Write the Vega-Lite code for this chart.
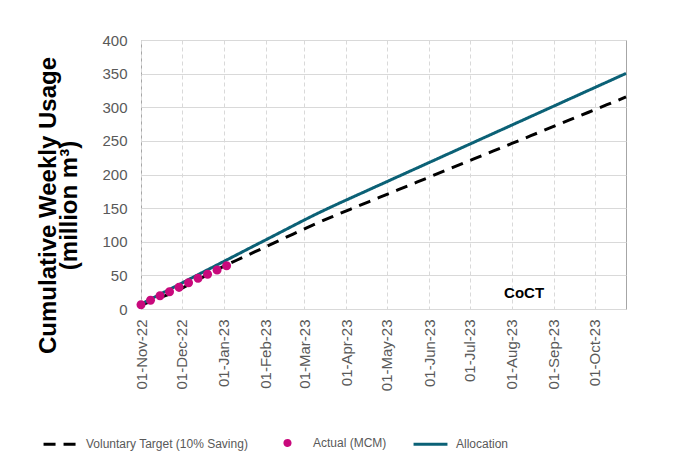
{
  "$schema": "https://vega.github.io/schema/vega-lite/v6.json",
  "width": 485,
  "height": 269,
  "autosize": "none",
  "padding": {"left": 141, "top": 40, "right": 55, "bottom": 147},
  "background": "white",
  "datasets": {
    "target": [
      {"date": "2022-11-01", "series": "Voluntary Target (10% Saving)", "value": 5.5},
      {"date": "2022-11-08", "series": "Voluntary Target (10% Saving)", "value": 11.5},
      {"date": "2022-11-15", "series": "Voluntary Target (10% Saving)", "value": 17.0},
      {"date": "2022-11-22", "series": "Voluntary Target (10% Saving)", "value": 22.0},
      {"date": "2022-11-29", "series": "Voluntary Target (10% Saving)", "value": 28.5},
      {"date": "2022-12-06", "series": "Voluntary Target (10% Saving)", "value": 36.0},
      {"date": "2022-12-13", "series": "Voluntary Target (10% Saving)", "value": 43.5},
      {"date": "2022-12-20", "series": "Voluntary Target (10% Saving)", "value": 51.0},
      {"date": "2022-12-27", "series": "Voluntary Target (10% Saving)", "value": 58.5},
      {"date": "2023-01-03", "series": "Voluntary Target (10% Saving)", "value": 65.5},
      {"date": "2023-01-10", "series": "Voluntary Target (10% Saving)", "value": 72.1},
      {"date": "2023-01-17", "series": "Voluntary Target (10% Saving)", "value": 78.7},
      {"date": "2023-01-24", "series": "Voluntary Target (10% Saving)", "value": 85.2},
      {"date": "2023-01-31", "series": "Voluntary Target (10% Saving)", "value": 91.7},
      {"date": "2023-02-07", "series": "Voluntary Target (10% Saving)", "value": 98.3},
      {"date": "2023-02-14", "series": "Voluntary Target (10% Saving)", "value": 104.9},
      {"date": "2023-02-21", "series": "Voluntary Target (10% Saving)", "value": 111.4},
      {"date": "2023-02-28", "series": "Voluntary Target (10% Saving)", "value": 118.0},
      {"date": "2023-03-07", "series": "Voluntary Target (10% Saving)", "value": 124.4},
      {"date": "2023-03-14", "series": "Voluntary Target (10% Saving)", "value": 130.6},
      {"date": "2023-03-21", "series": "Voluntary Target (10% Saving)", "value": 136.6},
      {"date": "2023-03-28", "series": "Voluntary Target (10% Saving)", "value": 142.5},
      {"date": "2023-04-04", "series": "Voluntary Target (10% Saving)", "value": 148.2},
      {"date": "2023-04-11", "series": "Voluntary Target (10% Saving)", "value": 154.0},
      {"date": "2023-04-18", "series": "Voluntary Target (10% Saving)", "value": 159.8},
      {"date": "2023-04-25", "series": "Voluntary Target (10% Saving)", "value": 165.5},
      {"date": "2023-05-02", "series": "Voluntary Target (10% Saving)", "value": 171.3},
      {"date": "2023-05-09", "series": "Voluntary Target (10% Saving)", "value": 177.0},
      {"date": "2023-05-16", "series": "Voluntary Target (10% Saving)", "value": 182.8},
      {"date": "2023-05-23", "series": "Voluntary Target (10% Saving)", "value": 188.6},
      {"date": "2023-05-30", "series": "Voluntary Target (10% Saving)", "value": 194.3},
      {"date": "2023-06-06", "series": "Voluntary Target (10% Saving)", "value": 200.1},
      {"date": "2023-06-13", "series": "Voluntary Target (10% Saving)", "value": 205.8},
      {"date": "2023-06-20", "series": "Voluntary Target (10% Saving)", "value": 211.6},
      {"date": "2023-06-27", "series": "Voluntary Target (10% Saving)", "value": 217.4},
      {"date": "2023-07-04", "series": "Voluntary Target (10% Saving)", "value": 223.1},
      {"date": "2023-07-11", "series": "Voluntary Target (10% Saving)", "value": 228.9},
      {"date": "2023-07-18", "series": "Voluntary Target (10% Saving)", "value": 234.6},
      {"date": "2023-07-25", "series": "Voluntary Target (10% Saving)", "value": 240.4},
      {"date": "2023-08-01", "series": "Voluntary Target (10% Saving)", "value": 246.2},
      {"date": "2023-08-08", "series": "Voluntary Target (10% Saving)", "value": 251.9},
      {"date": "2023-08-15", "series": "Voluntary Target (10% Saving)", "value": 257.7},
      {"date": "2023-08-22", "series": "Voluntary Target (10% Saving)", "value": 263.4},
      {"date": "2023-08-29", "series": "Voluntary Target (10% Saving)", "value": 269.2},
      {"date": "2023-09-05", "series": "Voluntary Target (10% Saving)", "value": 275.0},
      {"date": "2023-09-12", "series": "Voluntary Target (10% Saving)", "value": 280.7},
      {"date": "2023-09-19", "series": "Voluntary Target (10% Saving)", "value": 286.5},
      {"date": "2023-09-26", "series": "Voluntary Target (10% Saving)", "value": 292.2},
      {"date": "2023-10-03", "series": "Voluntary Target (10% Saving)", "value": 298.0},
      {"date": "2023-10-10", "series": "Voluntary Target (10% Saving)", "value": 303.8},
      {"date": "2023-10-17", "series": "Voluntary Target (10% Saving)", "value": 309.5},
      {"date": "2023-10-24", "series": "Voluntary Target (10% Saving)", "value": 315.3}
    ],
    "allocation": [
      {"date": "2022-11-01", "series": "Allocation", "value": 7.3},
      {"date": "2022-11-08", "series": "Allocation", "value": 14.6},
      {"date": "2022-11-15", "series": "Allocation", "value": 21.9},
      {"date": "2022-11-22", "series": "Allocation", "value": 29.1},
      {"date": "2022-11-29", "series": "Allocation", "value": 36.4},
      {"date": "2022-12-06", "series": "Allocation", "value": 43.7},
      {"date": "2022-12-13", "series": "Allocation", "value": 51.0},
      {"date": "2022-12-20", "series": "Allocation", "value": 58.3},
      {"date": "2022-12-27", "series": "Allocation", "value": 65.5},
      {"date": "2023-01-03", "series": "Allocation", "value": 72.8},
      {"date": "2023-01-10", "series": "Allocation", "value": 80.1},
      {"date": "2023-01-17", "series": "Allocation", "value": 87.4},
      {"date": "2023-01-24", "series": "Allocation", "value": 94.7},
      {"date": "2023-01-31", "series": "Allocation", "value": 101.9},
      {"date": "2023-02-07", "series": "Allocation", "value": 109.2},
      {"date": "2023-02-14", "series": "Allocation", "value": 116.5},
      {"date": "2023-02-21", "series": "Allocation", "value": 123.8},
      {"date": "2023-02-28", "series": "Allocation", "value": 131.1},
      {"date": "2023-03-07", "series": "Allocation", "value": 138.2},
      {"date": "2023-03-14", "series": "Allocation", "value": 145.1},
      {"date": "2023-03-21", "series": "Allocation", "value": 151.8},
      {"date": "2023-03-28", "series": "Allocation", "value": 158.3},
      {"date": "2023-04-04", "series": "Allocation", "value": 164.7},
      {"date": "2023-04-11", "series": "Allocation", "value": 171.1},
      {"date": "2023-04-18", "series": "Allocation", "value": 177.5},
      {"date": "2023-04-25", "series": "Allocation", "value": 183.9},
      {"date": "2023-05-02", "series": "Allocation", "value": 190.3},
      {"date": "2023-05-09", "series": "Allocation", "value": 196.7},
      {"date": "2023-05-16", "series": "Allocation", "value": 203.1},
      {"date": "2023-05-23", "series": "Allocation", "value": 209.5},
      {"date": "2023-05-30", "series": "Allocation", "value": 215.9},
      {"date": "2023-06-06", "series": "Allocation", "value": 222.3},
      {"date": "2023-06-13", "series": "Allocation", "value": 228.7},
      {"date": "2023-06-20", "series": "Allocation", "value": 235.1},
      {"date": "2023-06-27", "series": "Allocation", "value": 241.5},
      {"date": "2023-07-04", "series": "Allocation", "value": 247.9},
      {"date": "2023-07-11", "series": "Allocation", "value": 254.3},
      {"date": "2023-07-18", "series": "Allocation", "value": 260.7},
      {"date": "2023-07-25", "series": "Allocation", "value": 267.1},
      {"date": "2023-08-01", "series": "Allocation", "value": 273.5},
      {"date": "2023-08-08", "series": "Allocation", "value": 279.9},
      {"date": "2023-08-15", "series": "Allocation", "value": 286.3},
      {"date": "2023-08-22", "series": "Allocation", "value": 292.7},
      {"date": "2023-08-29", "series": "Allocation", "value": 299.1},
      {"date": "2023-09-05", "series": "Allocation", "value": 305.5},
      {"date": "2023-09-12", "series": "Allocation", "value": 311.9},
      {"date": "2023-09-19", "series": "Allocation", "value": 318.3},
      {"date": "2023-09-26", "series": "Allocation", "value": 324.7},
      {"date": "2023-10-03", "series": "Allocation", "value": 331.1},
      {"date": "2023-10-10", "series": "Allocation", "value": 337.5},
      {"date": "2023-10-17", "series": "Allocation", "value": 343.9},
      {"date": "2023-10-24", "series": "Allocation", "value": 350.3}
    ],
    "actual": [
      {"date": "2022-11-01", "series": "Actual (MCM)", "value": 6.4},
      {"date": "2022-11-08", "series": "Actual (MCM)", "value": 13.0},
      {"date": "2022-11-15", "series": "Actual (MCM)", "value": 19.8},
      {"date": "2022-11-22", "series": "Actual (MCM)", "value": 25.7},
      {"date": "2022-11-29", "series": "Actual (MCM)", "value": 32.2},
      {"date": "2022-12-06", "series": "Actual (MCM)", "value": 39.0},
      {"date": "2022-12-13", "series": "Actual (MCM)", "value": 45.6},
      {"date": "2022-12-20", "series": "Actual (MCM)", "value": 51.6},
      {"date": "2022-12-27", "series": "Actual (MCM)", "value": 58.0},
      {"date": "2023-01-03", "series": "Actual (MCM)", "value": 64.4}
    ],
    "label": [
      {"date": "2023-08-10", "value": 23.8, "text": "CoCT"}
    ]
  },
  "config": {
    "font": "Liberation Sans",
    "view": {"stroke": "#a6a6a6", "strokeWidth": 1},
    "axis": {"labelFont": "Liberation Sans", "titleFont": "Liberation Sans"},
    "legend": {"labelFont": "Liberation Sans"}
  },
  "encoding": {
    "x": {
      "field": "date", "type": "temporal",
      "scale": {"type": "utc", "domain": [{"year": 2022, "month": 11, "date": 1, "utc": true}, {"year": 2023, "month": 10, "date": 24, "utc": true}]},
      "axis": {
        "title": null, "format": "%d-%b-%y", "labelAngle": -90, "labelAlign": "right", "labelBaseline": "middle",
        "labelFontSize": 15, "labelColor": "#595959", "labelPadding": 10, "domain": false, "ticks": false,
        "grid": true, "gridColor": "#d9d9d9", "gridDash": [4, 3], "labelOverlap": false
      }
    },
    "y": {
      "field": "value", "type": "quantitative",
      "scale": {"domain": [0, 400], "nice": false},
      "axis": {
        "title": ["Cumulative Weekly Usage", "(million m³)"],
        "tickCount": 8,
        "grid": true, "gridColor": "#d9d9d9", "domain": false, "ticks": false, "labelOverlap": false,
        "labelFontSize": 15, "labelColor": "#595959", "labelPadding": 14,
        "titleFontSize": 24, "titleFontWeight": "bold", "titleColor": "#000000",
        "titleX": -86, "titleY": 165, "titleAngle": -90, "titleAlign": "center", "titleBaseline": "alphabetic", "titleLineHeight": 21
      }
    },
    "color": {
      "field": "series", "type": "nominal",
      "scale": {"domain": ["Voluntary Target (10% Saving)", "Actual (MCM)", "Allocation"], "range": ["#000000", "#c8097c", "#0b6176"]},
      "legend": {
        "title": null, "orient": "none", "legendX": -99, "legendY": 384, "direction": "horizontal",
        "labelFontSize": 12, "labelColor": "#595959", "labelOffset": 7, "columnPadding": 20, "labelLimit": 400,
        "symbolSize": 1150, "symbolStrokeWidth": 3
      }
    }
  },
  "layer": [
    {
      "data": {"name": "target"},
      "mark": {"type": "line", "strokeWidth": 3, "strokeCap": "butt"},
      "encoding": {
        "strokeDash": {
          "field": "series", "type": "nominal",
          "scale": {"domain": ["Voluntary Target (10% Saving)", "Actual (MCM)", "Allocation"], "range": [[12, 8], [1, 0], [1, 0]]},
          "legend": {
            "title": null, "orient": "none", "legendX": -99, "legendY": 384, "direction": "horizontal",
            "labelFontSize": 12, "labelColor": "#595959", "labelOffset": 7, "columnPadding": 20, "labelLimit": 400,
            "symbolSize": 1150, "symbolStrokeWidth": 3
          }
        }
      }
    },
    {
      "data": {"name": "allocation"},
      "mark": {"type": "line", "strokeWidth": 3},
      "encoding": {
        "strokeDash": {"field": "series", "type": "nominal"}
      }
    },
    {
      "data": {"name": "actual"},
      "mark": {"type": "point", "filled": true, "opacity": 1, "size": 3600},
      "encoding": {
        "shape": {
          "field": "series", "type": "nominal",
          "scale": {"domain": ["Voluntary Target (10% Saving)", "Actual (MCM)", "Allocation"], "range": ["stroke", "M-0.15,0A0.15,0.15,0,1,1,0.15,0A0.15,0.15,0,1,1,-0.15,0Z", "stroke"]},
          "legend": {
            "title": null, "orient": "none", "legendX": -99, "legendY": 384, "direction": "horizontal",
            "labelFontSize": 12, "labelColor": "#595959", "labelOffset": 7, "columnPadding": 20, "labelLimit": 400,
            "symbolSize": 1150, "symbolStrokeWidth": 3
          }
        }
      }
    },
    {
      "data": {"name": "label"},
      "mark": {"type": "text", "font": "Liberation Sans", "fontWeight": "bold", "fontSize": 15, "align": "center", "baseline": "middle"},
      "encoding": {
        "color": {"value": "#000000"},
        "text": {"field": "text"}
      }
    }
  ]
}
